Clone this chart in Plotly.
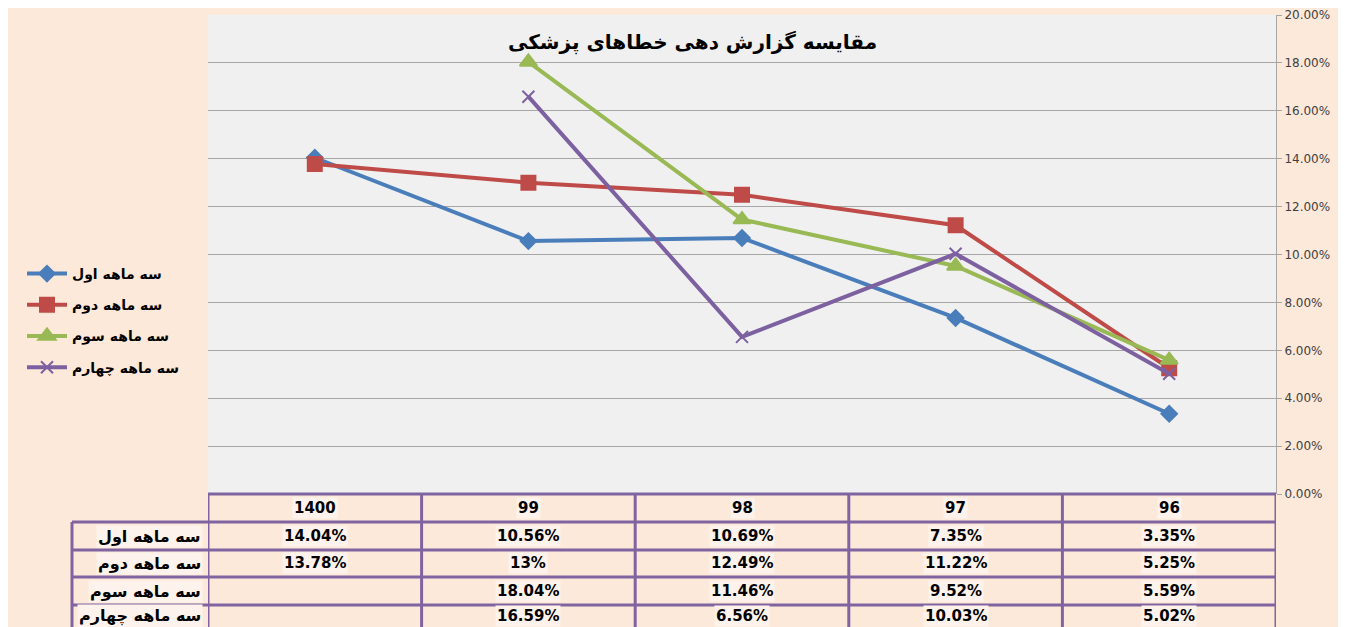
import plotly.graph_objects as go

categories = ["1400", "99", "98", "97", "96"]
series_names = ["سه ماهه اول", "سه ماهه دوم", "سه ماهه سوم", "سه ماهه چهارم"]
q1 = [0.1404, 0.1056, 0.1069, 0.0735, 0.0335]
q2 = [0.1378, 0.13, 0.1249, 0.1122, 0.0525]
q3 = [None, 0.1804, 0.1146, 0.0952, 0.0559]
q4 = [None, 0.1659, 0.0656, 0.1003, 0.0502]
table_text = [
    ["14.04%", "10.56%", "10.69%", "7.35%", "3.35%"],
    ["13.78%", "13%", "12.49%", "11.22%", "5.25%"],
    ["", "18.04%", "11.46%", "9.52%", "5.59%"],
    ["", "16.59%", "6.56%", "10.03%", "5.02%"],
]
title_text = "مقایسه گزارش دهی خطاهای پزشکی"

colors = ["#4A7EBB", "#BE4B48", "#98B954", "#7D60A0"]
symbols = ["diamond", "square", "triangle-up", "x-thin-open"]
msizes = [12, 14, 15, 12]

# page body has an 8px margin; work in figure coordinates (screen - 8)
OFF = 8
W, H = 1346 - OFF, 627 - OFF
L, R, T, B = 208 - OFF, 1276 - OFF, 15 - OFF, 494 - OFF
PW, PH = R - L, B - T

def px(x):  # screen x -> paper
    return (x - OFF - L) / PW

def py(y):  # screen y -> paper
    return (B - (y - OFF)) / PH

fig = go.Figure()
for i, (name, vals) in enumerate(zip(series_names, [q1, q2, q3, q4])):
    fig.add_trace(go.Scatter(
        x=categories, y=vals, name=name, mode="lines+markers",
        line=dict(color=colors[i], width=4),
        marker=dict(symbol=symbols[i], size=msizes[i], color=colors[i],
                    line=dict(color=colors[i], width=2)),
        legendgroup=str(i), connectgaps=False,
    ))

peach = "#FDE9D9"
border = "#8064A2"
shapes = []

row_lines = [494, 522, 550, 577, 605, 640]
lw = 3
shapes.append(dict(type="line", xref="paper", yref="paper", x0=px(208), x1=px(1276),
                   y0=py(494), y1=py(494), line=dict(color=border, width=lw)))
for yl in row_lines[1:]:
    shapes.append(dict(type="line", xref="paper", yref="paper", x0=px(72), x1=px(1276),
                       y0=py(yl), y1=py(yl), line=dict(color=border, width=lw)))
for k in range(len(categories) + 1):
    shapes.append(dict(type="line", xref="x", yref="paper", x0=k - 0.5, x1=k - 0.5,
                       y0=py(494), y1=py(640), line=dict(color=border, width=lw)))
shapes.append(dict(type="line", xref="paper", yref="paper", x0=px(72), x1=px(72),
                   y0=py(522), y1=py(640), line=dict(color=border, width=lw)))

annotations = []
annotations.append(dict(text="<b>" + title_text + "</b>", xref="paper", yref="paper",
                        x=px(692), y=py(42), xanchor="center", yanchor="middle",
                        showarrow=False,
                        font=dict(family="DejaVu Sans", size=20, color="black")))
cell_font = dict(family="DejaVu Sans", size=15, color="black", weight="bold")
label_font = dict(family="DejaVu Sans", size=16, color="black", weight="bold")
row_centers = [536, 563, 591, 616]
for j, c in enumerate(categories):
    annotations.append(dict(text=c, xref="x", yref="paper", x=j, y=py(508),
                            xanchor="center", yanchor="middle",
                            showarrow=False, font=cell_font, bgcolor="#FEF3EC"))
for r, row in enumerate(table_text):
    annotations.append(dict(text=series_names[r], xref="paper", yref="paper", x=px(203),
                            y=py(row_centers[r]), xanchor="right", yanchor="middle",
                            showarrow=False, font=label_font, bgcolor="#FEF3EC"))
    for j, t in enumerate(row):
        if t:
            annotations.append(dict(text=t, xref="x", yref="paper", x=j, y=py(row_centers[r]),
                                    xanchor="center", yanchor="middle",
                                    showarrow=False, font=cell_font, bgcolor="#FEF3EC"))

fig.update_layout(
    width=W, height=H,
    margin=dict(l=L, r=W - R, t=T, b=H - B, pad=0, autoexpand=False),
    paper_bgcolor=peach, plot_bgcolor="#F0F0F0",
    font=dict(family="DejaVu Sans", color="#404040"),
    showlegend=True,
    legend=dict(x=px(22), y=py(258), xanchor="left", yanchor="top",
                bgcolor="rgba(0,0,0,0)", tracegroupgap=10, traceorder="grouped",
                font=dict(family="DejaVu Sans", size=14, color="black", weight="bold"),
                itemwidth=40),
    xaxis=dict(type="category", range=[-0.5, 4.5], showgrid=False, showticklabels=False,
               zeroline=False, showline=False, ticks="", automargin=False),
    yaxis=dict(side="right", range=[0, 0.2], dtick=0.02, tickformat=".2%",
               showgrid=True, gridcolor="#A6A6A6", gridwidth=1,
               showline=True, linecolor="#A6A6A6", linewidth=1,
               ticks="outside", ticklen=5, tickcolor="#A6A6A6",
               tickfont=dict(family="DejaVu Sans", size=12, color="#404040"),
               zeroline=False, automargin=False),
    shapes=shapes, annotations=annotations,
)

fig.write_html("out.html")
